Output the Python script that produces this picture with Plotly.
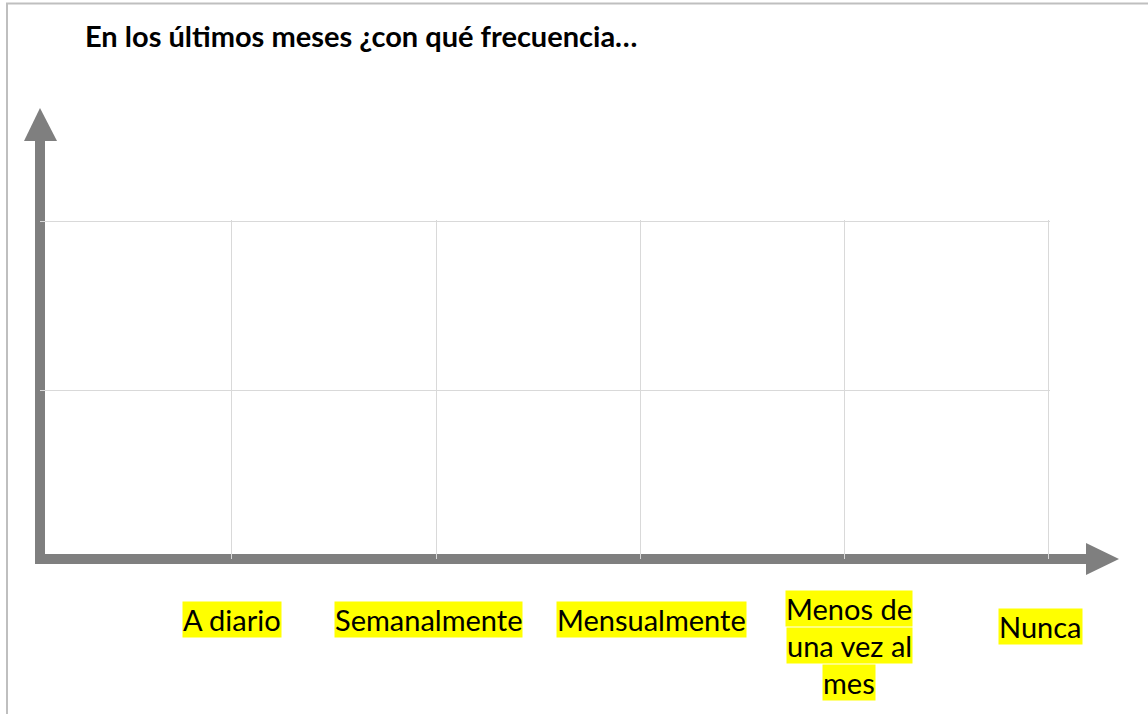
import plotly.graph_objects as go

# Response categories along the horizontal axis (one per grid column edge)
categories = ["A diario", "Semanalmente", "Mensualmente", "Menos de<br>una vez al<br>mes", "Nunca"]
cat_pos = [1, 2, 3, 4, 5]
row_levels = [1, 2]

title_text = "En los últimos meses ¿con qué frecuencia…"

W, H = 1148, 714
X_RANGE = [0.06, 5.008]
Y_RANGE = [0, 2.01]
L, R, T, B = 40, 1050, 220, 559          # plot area edges in pixels
PW, PH = R - L, B - T

AXIS_GREY = "#7f7f7f"
GRID_GREY = "#d9d9d9"
FONT = "Lato"


def fx(p):
    """pixel x -> paper x"""
    return (p - L) / PW


def fy(p):
    """pixel y (from top) -> paper y"""
    return (B - p) / PH


fig = go.Figure()
# invisible trace to establish the axes
fig.add_trace(go.Scatter(x=cat_pos, y=[None] * len(cat_pos), mode="markers",
                         showlegend=False, hoverinfo="skip"))

shapes = []
# L-shaped axis body
shapes.append(dict(
    type="path", xref="paper", yref="paper", layer="below",
    path=f"M {fx(40)},{fy(140)} L {fx(40)},{fy(559)} L {fx(1087)},{fy(559)}",
    line=dict(color=AXIS_GREY, width=10), fillcolor="rgba(0,0,0,0)",
))
# arrow heads
shapes.append(dict(
    type="path", xref="paper", yref="paper", layer="below",
    path=f"M {fx(24)},{fy(141)} L {fx(40)},{fy(108)} L {fx(57)},{fy(141)} Z",
    line=dict(width=0), fillcolor=AXIS_GREY,
))
shapes.append(dict(
    type="path", xref="paper", yref="paper", layer="below",
    path=f"M {fx(1086)},{fy(543)} L {fx(1119)},{fy(559)} L {fx(1086)},{fy(575)} Z",
    line=dict(width=0), fillcolor=AXIS_GREY,
))
# outer frame (left and top edges)
shapes.append(dict(type="line", xref="paper", yref="paper",
                   x0=fx(7), x1=fx(7), y0=fy(3), y1=fy(714),
                   line=dict(color="#bfbfbf", width=2)))
shapes.append(dict(type="line", xref="paper", yref="paper",
                   x0=fx(6), x1=fx(1148), y0=fy(3.5), y1=fy(3.5),
                   line=dict(color="#bfbfbf", width=2)))

annotations = []
LINE_H = 37
label_center = {0: 619, 1: 619, 2: 619, 3: 645, 4: 626}
label_xshift = {0: 0, 1: -8, 2: 11, 3: 5, 4: -8}
for i, (cat, xv) in enumerate(zip(categories, cat_pos)):
    lines = cat.split("<br>")
    n = len(lines)
    c = label_center[i]
    for k, ln in enumerate(lines):
        yc = c + (k - (n - 1) / 2) * LINE_H
        annotations.append(dict(
            x=xv, y=fy(yc), xref="x", yref="paper", xshift=label_xshift[i],
            text=ln, showarrow=False, xanchor="center", yanchor="middle",
            font=dict(family=FONT, size=29, color="black"),
            bgcolor="#ffff00", borderpad=0,
        ))

fig.update_layout(
    width=W, height=H,
    margin=dict(l=L, r=W - R, t=T, b=H - B, pad=0),
    paper_bgcolor="white", plot_bgcolor="rgba(0,0,0,0)",
    title=dict(text=f"<b>{title_text}</b>", x=85 / W, xanchor="left",
               y=1 - 37 / H, yanchor="middle",
               font=dict(family=FONT, size=29, color="black")),
    xaxis=dict(range=X_RANGE, tickvals=cat_pos, showticklabels=False,
               showgrid=True, gridcolor=GRID_GREY, gridwidth=1,
               zeroline=False, showline=False, ticks=""),
    yaxis=dict(range=Y_RANGE, tickvals=row_levels, showticklabels=False,
               showgrid=True, gridcolor=GRID_GREY, gridwidth=1,
               zeroline=False, showline=False, ticks=""),
    shapes=shapes, annotations=annotations, showlegend=False,
)

fig.write_html("out.html")
